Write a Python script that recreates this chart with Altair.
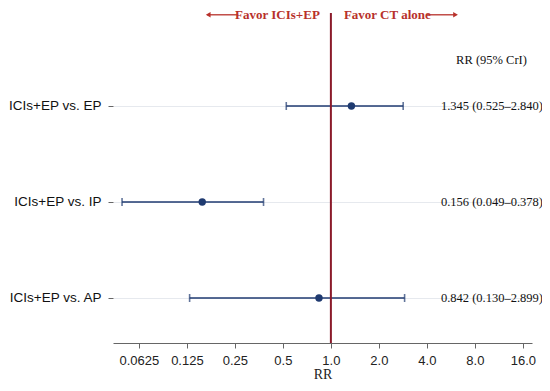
import altair as alt
import pandas as pd

comparisons = ["ICIs+EP vs. EP", "ICIs+EP vs. IP", "ICIs+EP vs. AP"]
rows = [3, 2, 1]
rr = [1.345, 0.156, 0.842]
lower = [0.525, 0.049, 0.130]
upper = [2.840, 0.378, 2.899]
labels = ["1.345 (0.525\u20132.840)", "0.156 (0.049\u20130.378)", "0.842 (0.130\u20132.899)"]
x_ticks = [0.0625, 0.125, 0.25, 0.5, 1, 2, 4, 8, 16]
x_tick_labels = ["0.0625", "0.125", "0.25", "0.5", "1.0", "2.0", "4.0", "8.0", "16.0"]
fav_texts = ["Favor ICIs+EP", "Favor CT alone"]

df = pd.DataFrame({"comp": comparisons, "row": rows, "rr": rr, "lo": lower, "hi": upper, "lab": labels})
one = pd.DataFrame({"k": [0]})

navy = "#1f3a70"
red = "#8b1a2a"
txtred = "#b8312b"

xlab_expr = " : ".join(
    f"datum.value == {v} ? '{l}'" for v, l in zip(x_ticks, x_tick_labels)
) + " : ''"
ylab_expr = " : ".join(f"datum.value == {r} ? '{c}'" for r, c in zip(rows, comparisons)) + " : ''"

xscale = alt.Scale(type="log", base=2, domain=[0.043, 18.25], nice=False)
yscale = alt.Scale(domain=[0.531, 4.0], nice=False, zero=False)

xaxis = alt.Axis(values=x_ticks, labelExpr=xlab_expr, title="RR", grid=False,
                 labelFont="Liberation Sans", labelFontSize=13, labelColor="#222",
                 titleFont="Liberation Serif", titleFontSize=14, titleFontWeight="normal",
                 titleColor="#222", domainColor="#666", tickColor="#666", tickSize=5,
                 labelPadding=6, titlePadding=0)
yaxis = alt.Axis(values=rows, labelExpr=ylab_expr, title=None, domain=False,
                 grid=True, gridColor="#e6e9ee", gridWidth=1,
                 labelFont="Liberation Sans", labelFontSize=13.5, labelColor="#111",
                 tickColor="#666", tickSize=5, labelPadding=7)

base = alt.Chart(df)
single = alt.Chart(one)

bars = base.mark_rule(color=navy, strokeWidth=1.6).encode(
    x=alt.X("lo:Q", scale=xscale, axis=xaxis),
    x2="hi:Q",
    y=alt.Y("row:Q", scale=yscale, axis=yaxis),
)
cap_lo = base.mark_tick(color=navy, orient="vertical", size=8, thickness=1.6).encode(
    x=alt.X("lo:Q", scale=xscale), y=alt.Y("row:Q", scale=yscale))
cap_hi = base.mark_tick(color=navy, orient="vertical", size=8, thickness=1.6).encode(
    x=alt.X("hi:Q", scale=xscale), y=alt.Y("row:Q", scale=yscale))
vline = single.mark_rule(color=red, strokeWidth=2).encode(
    x=alt.datum(1, scale=xscale), y=alt.datum(3.97, scale=yscale), y2=alt.datum(0.531))
points = base.mark_circle(color=navy, size=55, opacity=1).encode(
    x=alt.X("rr:Q", scale=xscale), y=alt.Y("row:Q", scale=yscale))
texts = base.mark_text(align="left", baseline="middle", font="Liberation Serif",
                       fontSize=12.5, color="#111").encode(
    x=alt.datum(4.9, scale=xscale), y=alt.Y("row:Q", scale=yscale), text="lab:N")
header = single.mark_text(align="left", baseline="middle", font="Liberation Serif",
                          fontSize=12.5, color="#111").encode(
    x=alt.datum(6.1, scale=xscale), y=alt.datum(3.48, scale=yscale),
    text=alt.value("RR (95% CrI)"))

fav_y = 3.95
fav_left = single.mark_text(align="right", baseline="middle", font="Liberation Serif",
                            fontSize=13, fontWeight="bold", color=txtred, dx=-11).encode(
    x=alt.datum(1, scale=xscale), y=alt.datum(fav_y, scale=yscale),
    text=alt.value(fav_texts[0]))
fav_right = single.mark_text(align="left", baseline="middle", font="Liberation Serif",
                             fontSize=13, fontWeight="bold", color=txtred, dx=13).encode(
    x=alt.datum(1, scale=xscale), y=alt.datum(fav_y, scale=yscale),
    text=alt.value(fav_texts[1]))
arrow_l = single.mark_rule(color=txtred, strokeWidth=1.3).encode(
    x=alt.datum(0.168, scale=xscale), x2=alt.datum(0.262), y=alt.datum(fav_y, scale=yscale))
arrow_r = single.mark_rule(color=txtred, strokeWidth=1.3).encode(
    x=alt.datum(3.95, scale=xscale), x2=alt.datum(6.1), y=alt.datum(fav_y, scale=yscale))
head_l = single.mark_point(shape="triangle-left", filled=True, size=30, color=txtred, opacity=1).encode(
    x=alt.datum(0.17, scale=xscale), y=alt.datum(fav_y, scale=yscale))
head_r = single.mark_point(shape="triangle-right", filled=True, size=30, color=txtred, opacity=1).encode(
    x=alt.datum(6.05, scale=xscale), y=alt.datum(fav_y, scale=yscale))

chart = alt.layer(bars, vline, cap_lo, cap_hi, points, texts, header,
                  fav_left, fav_right, arrow_l, arrow_r, head_l, head_r).properties(
    width=419, height=333,
    autosize=alt.AutoSizeParams(type="none"),
    padding={"left": 105, "top": 2, "right": 10, "bottom": 40},
).configure_view(stroke=None)

chart.save("out.html", embed_options={"renderer": "svg", "actions": False})
